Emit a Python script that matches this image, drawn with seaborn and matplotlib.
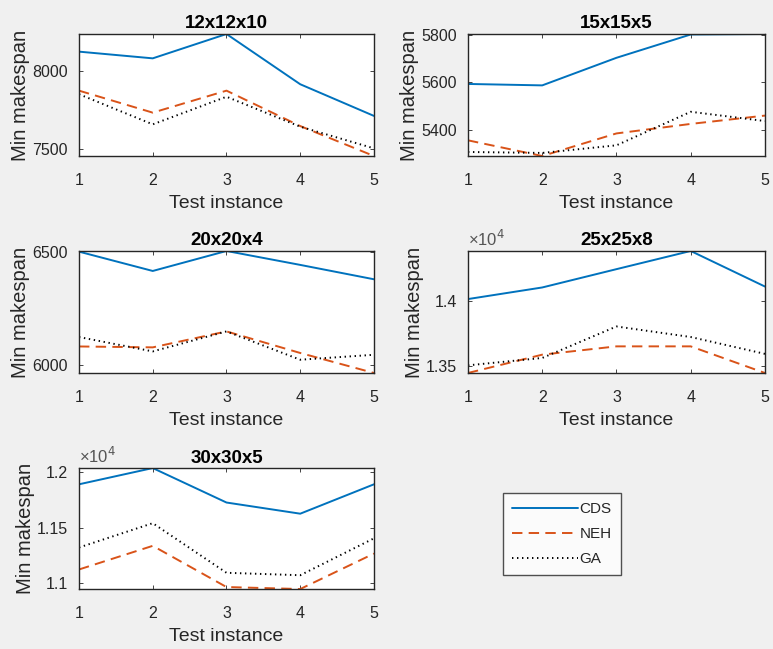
import numpy as np
import pandas as pd
import matplotlib
matplotlib.use('Agg')
import matplotlib.pyplot as plt
import seaborn as sns

# values
instances = [1, 2, 3, 4, 5]
titles = ['12x12x10', '15x15x5', '20x20x4', '25x25x8', '30x30x5']

cds_12 = [8124, 8081, 8237, 7915, 7712]
neh_12 = [7874, 7733, 7874, 7647, 7455]
ga_12 = [7851, 7658, 7835, 7643, 7504]

cds_15 = [5593, 5587, 5703, 5801, 5803]
neh_15 = [5356, 5290, 5385, 5425, 5460]
ga_15 = [5307, 5303, 5335, 5476, 5437]

cds_20 = [6503, 6417, 6506, 6444, 6380]
neh_20 = [6081, 6077, 6148, 6052, 5963]
ga_20 = [6123, 6059, 6148, 6022, 6044]

cds_25 = [14011, 14099, 14238, 14376, 14106]
neh_25 = [13450, 13589, 13652, 13652, 13450]
ga_25 = [13508, 13564, 13803, 13723, 13595]

cds_30 = [11893, 12040, 11728, 11627, 11893]
neh_30 = [11122, 11336, 10963, 10945, 11266]
ga_30 = [11321, 11541, 11092, 11070, 11404]

yticks = [[7500, 8000], [5400, 5600, 5800], [6000, 6500],
          [13500, 14000], [11000, 11500, 12000]]
yticklabels = [['7500', '8000'], ['5400', '5600', '5800'], ['6000', '6500'],
               ['1.35', '1.4'], ['1.1', '1.15', '1.2']]
scaled = [False, False, False, True, True]

series = [(cds_12, neh_12, ga_12), (cds_15, neh_15, ga_15), (cds_20, neh_20, ga_20),
          (cds_25, neh_25, ga_25), (cds_30, neh_30, ga_30)]

sns.set_style('ticks')
plt.rcParams['font.family'] = ['Liberation Sans', 'DejaVu Sans']
plt.rcParams['lines.scale_dashes'] = False
plt.rcParams['axes.edgecolor'] = '#262626'
plt.rcParams['axes.linewidth'] = 1.0

fig = plt.figure(figsize=(7.73, 6.49), dpi=100, facecolor='#f0f0f0')

positions = [
    [0.1022, 0.7596, 0.3816, 0.188],
    [0.6054, 0.7596, 0.3842, 0.188],
    [0.1022, 0.4253, 0.3816, 0.188],
    [0.6054, 0.4253, 0.3842, 0.188],
    [0.1022, 0.0924, 0.3816, 0.1864],
]

blue = '#0072BD'
orange = '#D95319'
gray = '#262626'

for i, pos in enumerate(positions):
    ax = fig.add_axes(pos)
    ax.set_facecolor('white')
    cds, neh, ga = series[i]
    df = pd.DataFrame({'instance': instances, 'CDS': cds, 'NEH': neh, 'GA': ga})

    sns.lineplot(data=df, x='instance', y='CDS', ax=ax, color=blue, lw=1.4, label='CDS')
    sns.lineplot(data=df, x='instance', y='NEH', ax=ax, color=orange, lw=1.4,
                 dashes=False, linestyle=(0, (7.5, 4.5)), label='NEH')
    sns.lineplot(data=df, x='instance', y='GA', ax=ax, color='black', lw=1.4,
                 dashes=False, linestyle=(0, (1.0, 2.6)), label='GA')

    if i == 0:
        handles, labels = ax.get_legend_handles_labels()
    ax.get_legend().remove()

    allv = cds + neh + ga
    ax.set_xlim(1, 5)
    ax.set_ylim(min(allv), max(allv))
    ax.set_xticks(instances)
    ax.set_yticks(yticks[i])
    ax.set_yticklabels(yticklabels[i])
    ax.tick_params(direction='in', top=True, right=True, length=3, width=0.6,
                   labelsize=11.5, labelcolor=gray, color=gray)
    ax.tick_params(axis='x', pad=12.5)
    ax.tick_params(axis='y', pad=8)
    ax.set_xlabel('Test instance', fontsize=14, color=gray, labelpad=5)
    ax.set_ylabel('Min makespan', fontsize=14.5, color=gray, labelpad=1.5)
    ax.set_title(titles[i], fontsize=13.5, fontweight='bold', color='black', pad=4)
    for s in ax.spines.values():
        s.set_visible(True)
        s.set_color(gray)
    if scaled[i]:
        ax.text(0.0, 1.02, r'×10$^{4}$', transform=ax.transAxes, fontsize=12,
                color='#555555', ha='left', va='bottom')

leg = fig.legend(handles, labels, loc='upper left', bbox_to_anchor=(503 / 773, 1 - 493 / 649),
                 fontsize=11, handlelength=4.3, handletextpad=0.12, labelspacing=0.72,
                 frameon=True, fancybox=False, borderpad=0.6, borderaxespad=0)
leg.get_frame().set_edgecolor(gray)
leg.get_frame().set_facecolor('white')
leg.get_frame().set_linewidth(1.0)

fig.savefig('out.png', dpi=100, facecolor=fig.get_facecolor())
